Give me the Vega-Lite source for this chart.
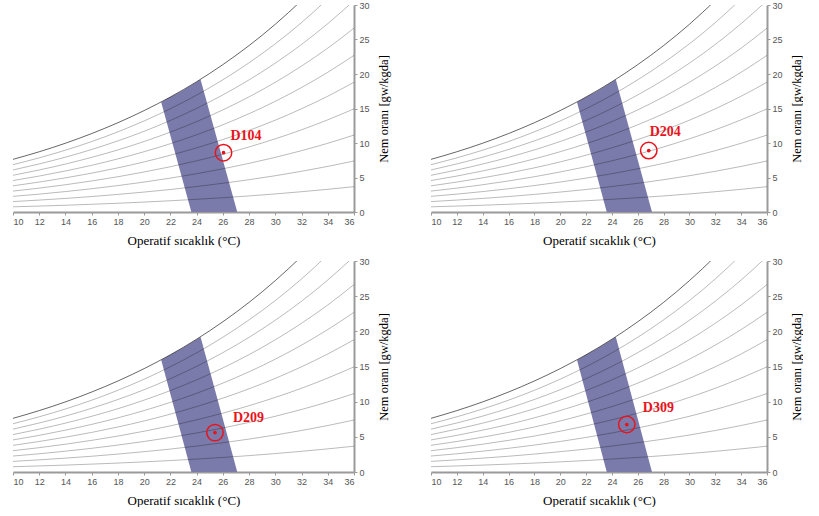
{
  "$schema": "https://vega.github.io/schema/vega-lite/v6.json",
  "background": "white",
  "padding": {"left": 12, "top": 1, "right": 0, "bottom": 0},
  "datasets": {
    "rh": [
      {"rh": 10, "t": 10, "w": 0.75}, {"rh": 10, "t": 12, "w": 0.86}, {"rh": 10, "t": 14, "w": 0.98}, {"rh": 10, "t": 16, "w": 1.12}, {"rh": 10, "t": 18, "w": 1.27}, {"rh": 10, "t": 20, "w": 1.44}, {"rh": 10, "t": 22, "w": 1.63}, {"rh": 10, "t": 24, "w": 1.84}, {"rh": 10, "t": 26, "w": 2.07}, {"rh": 10, "t": 28, "w": 2.33}, {"rh": 10, "t": 30, "w": 2.62}, {"rh": 10, "t": 32, "w": 2.94}, {"rh": 10, "t": 34, "w": 3.29}, {"rh": 10, "t": 36, "w": 3.67},
      {"rh": 20, "t": 10, "w": 1.51}, {"rh": 20, "t": 12, "w": 1.73}, {"rh": 20, "t": 14, "w": 1.97}, {"rh": 20, "t": 16, "w": 2.24}, {"rh": 20, "t": 18, "w": 2.55}, {"rh": 20, "t": 20, "w": 2.89}, {"rh": 20, "t": 22, "w": 3.26}, {"rh": 20, "t": 24, "w": 3.69}, {"rh": 20, "t": 26, "w": 4.16}, {"rh": 20, "t": 28, "w": 4.68}, {"rh": 20, "t": 30, "w": 5.26}, {"rh": 20, "t": 32, "w": 5.90}, {"rh": 20, "t": 34, "w": 6.61}, {"rh": 20, "t": 36, "w": 7.39},
      {"rh": 30, "t": 10, "w": 2.27}, {"rh": 30, "t": 12, "w": 2.59}, {"rh": 30, "t": 14, "w": 2.96}, {"rh": 30, "t": 16, "w": 3.37}, {"rh": 30, "t": 18, "w": 3.83}, {"rh": 30, "t": 20, "w": 4.34}, {"rh": 30, "t": 22, "w": 4.91}, {"rh": 30, "t": 24, "w": 5.55}, {"rh": 30, "t": 26, "w": 6.26}, {"rh": 30, "t": 28, "w": 7.05}, {"rh": 30, "t": 30, "w": 7.92}, {"rh": 30, "t": 32, "w": 8.89}, {"rh": 30, "t": 34, "w": 9.96}, {"rh": 30, "t": 36, "w": 11.15},
      {"rh": 40, "t": 10, "w": 3.03}, {"rh": 40, "t": 12, "w": 3.46}, {"rh": 40, "t": 14, "w": 3.95}, {"rh": 40, "t": 16, "w": 4.50}, {"rh": 40, "t": 18, "w": 5.11}, {"rh": 40, "t": 20, "w": 5.80}, {"rh": 40, "t": 22, "w": 6.56}, {"rh": 40, "t": 24, "w": 7.42}, {"rh": 40, "t": 26, "w": 8.37}, {"rh": 40, "t": 28, "w": 9.43}, {"rh": 40, "t": 30, "w": 10.61}, {"rh": 40, "t": 32, "w": 11.91}, {"rh": 40, "t": 34, "w": 13.36}, {"rh": 40, "t": 36, "w": 14.95},
      {"rh": 50, "t": 10, "w": 3.79}, {"rh": 50, "t": 12, "w": 4.34}, {"rh": 50, "t": 14, "w": 4.95}, {"rh": 50, "t": 16, "w": 5.63}, {"rh": 50, "t": 18, "w": 6.40}, {"rh": 50, "t": 20, "w": 7.26}, {"rh": 50, "t": 22, "w": 8.23}, {"rh": 50, "t": 24, "w": 9.30}, {"rh": 50, "t": 26, "w": 10.50}, {"rh": 50, "t": 28, "w": 11.83}, {"rh": 50, "t": 30, "w": 13.31}, {"rh": 50, "t": 32, "w": 14.96}, {"rh": 50, "t": 34, "w": 16.78}, {"rh": 50, "t": 36, "w": 18.81},
      {"rh": 60, "t": 10, "w": 4.56}, {"rh": 60, "t": 12, "w": 5.21}, {"rh": 60, "t": 14, "w": 5.95}, {"rh": 60, "t": 16, "w": 6.77}, {"rh": 60, "t": 18, "w": 7.70}, {"rh": 60, "t": 20, "w": 8.74}, {"rh": 60, "t": 22, "w": 9.90}, {"rh": 60, "t": 24, "w": 11.19}, {"rh": 60, "t": 26, "w": 12.64}, {"rh": 60, "t": 28, "w": 14.25}, {"rh": 60, "t": 30, "w": 16.04}, {"rh": 60, "t": 32, "w": 18.04}, {"rh": 60, "t": 34, "w": 20.25}, {"rh": 60, "t": 36, "w": 22.70},
      {"rh": 70, "t": 10, "w": 5.32}, {"rh": 70, "t": 12, "w": 6.09}, {"rh": 70, "t": 14, "w": 6.95}, {"rh": 70, "t": 16, "w": 7.92}, {"rh": 70, "t": 18, "w": 9.00}, {"rh": 70, "t": 20, "w": 10.22}, {"rh": 70, "t": 22, "w": 11.58}, {"rh": 70, "t": 24, "w": 13.10}, {"rh": 70, "t": 26, "w": 14.80}, {"rh": 70, "t": 28, "w": 16.69}, {"rh": 70, "t": 30, "w": 18.80}, {"rh": 70, "t": 32, "w": 21.15}, {"rh": 70, "t": 34, "w": 23.75}, {"rh": 70, "t": 36, "w": 26.65},
      {"rh": 80, "t": 10, "w": 6.09}, {"rh": 80, "t": 12, "w": 6.97}, {"rh": 80, "t": 14, "w": 7.95}, {"rh": 80, "t": 16, "w": 9.06}, {"rh": 80, "t": 18, "w": 10.31}, {"rh": 80, "t": 20, "w": 11.70}, {"rh": 80, "t": 22, "w": 13.27}, {"rh": 80, "t": 24, "w": 15.02}, {"rh": 80, "t": 26, "w": 16.97}, {"rh": 80, "t": 28, "w": 19.15}, {"rh": 80, "t": 30, "w": 21.58}, {"rh": 80, "t": 32, "w": 24.28}, {"rh": 80, "t": 34, "w": 27.30}, {"rh": 80, "t": 36, "w": 30.64},
      {"rh": 90, "t": 10, "w": 6.86}, {"rh": 90, "t": 12, "w": 7.85}, {"rh": 90, "t": 14, "w": 8.96}, {"rh": 90, "t": 16, "w": 10.21}, {"rh": 90, "t": 18, "w": 11.62}, {"rh": 90, "t": 20, "w": 13.20}, {"rh": 90, "t": 22, "w": 14.97}, {"rh": 90, "t": 24, "w": 16.94}, {"rh": 90, "t": 26, "w": 19.16}, {"rh": 90, "t": 28, "w": 21.63}, {"rh": 90, "t": 30, "w": 24.38}, {"rh": 90, "t": 32, "w": 27.45}, {"rh": 90, "t": 34, "w": 30.88},
      {"rh": 100, "t": 10, "w": 7.63}, {"rh": 100, "t": 12, "w": 8.73}, {"rh": 100, "t": 14, "w": 9.97}, {"rh": 100, "t": 16, "w": 11.37}, {"rh": 100, "t": 18, "w": 12.94}, {"rh": 100, "t": 20, "w": 14.70}, {"rh": 100, "t": 22, "w": 16.67}, {"rh": 100, "t": 24, "w": 18.88}, {"rh": 100, "t": 26, "w": 21.36}, {"rh": 100, "t": 28, "w": 24.12}, {"rh": 100, "t": 30, "w": 27.21}, {"rh": 100, "t": 32, "w": 30.65}
    ],
    "zone": [
      {"w": 0, "t": 23.6, "t2": 27.1},
      {"w": 15.92, "t": 21.3, "t2": 24.78},
      {"w": 16.67, "t": 22.0, "t2": 24.67},
      {"w": 17.48, "t": 22.8, "t2": 24.55},
      {"w": 18.26, "t": 23.5, "t2": 24.44},
      {"w": 19.19, "t": 24.3, "t2": 24.3}
    ]
  },
  "config": {
    "view": {"stroke": null},
    "axis": {
      "grid": false,
      "domainColor": "#9a9a9a",
      "domainWidth": 2,
      "tickColor": "#9a9a9a",
      "tickSize": 3,
      "labelColor": "#555555",
      "labelFont": "Liberation Sans",
      "labelFontSize": 9,
      "labelPadding": 2,
      "titleFont": "Liberation Serif",
      "titleFontWeight": "normal",
      "titleColor": "#000000",
      "titleFontSize": 13
    }
  },
  "bounds": "flush",
  "columns": 2,
  "spacing": {"row": 49, "column": 77},
  "concat": [
    {
      "width": 341, "height": 207,
      "encoding": {
        "x": {"field": "t", "type": "quantitative", "scale": {"domain": [10, 36], "nice": false, "zero": false}, "axis": {"values": [10,12,14,16,18,20,22,24,26,28,30,32,34,36], "title": "Operatif sıcaklık (°C)", "titlePadding": 8}},
        "y": {"field": "w", "type": "quantitative", "scale": {"domain": [0, 30], "nice": false}, "axis": {"orient": "right", "values": [0,5,10,15,20,25,30], "title": "Nem oranı [gw/kgda]", "titleAngle": 270, "titlePadding": 21, "titleFontSize": 12.5}}
      },
      "layer": [
        {"data": {"name": "zone"}, "mark": {"type": "area", "orient": "horizontal", "color": "#7b7bab", "opacity": 1}, "encoding": {"x2": {"field": "t2"}}},
        {"data": {"name": "rh"}, "transform": [{"filter": "datum.rh < 100"}], "mark": {"type": "line", "interpolate": "monotone", "clip": true, "color": "#000000", "opacity": 0.27, "strokeWidth": 1}, "encoding": {"detail": {"field": "rh"}}},
        {"data": {"name": "rh"}, "transform": [{"filter": "datum.rh == 100"}], "mark": {"type": "line", "interpolate": "monotone", "clip": true, "color": "#000000", "opacity": 0.6, "strokeWidth": 1}, "encoding": {}},
        {"data": {"values": [{"t": 26.05, "w": 8.6, "label": "D104"}]}, "mark": {"type": "point", "shape": "circle", "filled": false, "stroke": "#e8141c", "strokeWidth": 1.5, "size": 270, "opacity": 1}, "encoding": {}},
        {"data": {"values": [{"t": 26.05, "w": 8.6, "label": "D104"}]}, "mark": {"type": "point", "shape": "circle", "filled": true, "color": "#e8141c", "size": 14, "opacity": 1}, "encoding": {}},
        {"data": {"values": [{"t": 26.05, "w": 8.6, "label": "D104"}]}, "mark": {"type": "text", "align": "left", "baseline": "alphabetic", "dx": 7, "dy": -13, "font": "Liberation Serif", "fontWeight": "bold", "fontSize": 14, "color": "#e8141c"}, "encoding": {"text": {"field": "label"}}}
      ]
    },
    {
      "width": 336, "height": 207,
      "encoding": {
        "x": {"field": "t", "type": "quantitative", "scale": {"domain": [10, 36], "nice": false, "zero": false}, "axis": {"values": [10,12,14,16,18,20,22,24,26,28,30,32,34,36], "title": "Operatif sıcaklık (°C)", "titlePadding": 8}},
        "y": {"field": "w", "type": "quantitative", "scale": {"domain": [0, 30], "nice": false}, "axis": {"orient": "right", "values": [0,5,10,15,20,25,30], "title": "Nem oranı [gw/kgda]", "titleAngle": 270, "titlePadding": 21, "titleFontSize": 12.5}}
      },
      "layer": [
        {"data": {"name": "zone"}, "mark": {"type": "area", "orient": "horizontal", "color": "#7b7bab", "opacity": 1}, "encoding": {"x2": {"field": "t2"}}},
        {"data": {"name": "rh"}, "transform": [{"filter": "datum.rh < 100"}], "mark": {"type": "line", "interpolate": "monotone", "clip": true, "color": "#000000", "opacity": 0.27, "strokeWidth": 1}, "encoding": {"detail": {"field": "rh"}}},
        {"data": {"name": "rh"}, "transform": [{"filter": "datum.rh == 100"}], "mark": {"type": "line", "interpolate": "monotone", "clip": true, "color": "#000000", "opacity": 0.6, "strokeWidth": 1}, "encoding": {}},
        {"data": {"values": [{"t": 26.85, "w": 8.9, "label": "D204"}]}, "mark": {"type": "point", "shape": "circle", "filled": false, "stroke": "#e8141c", "strokeWidth": 1.5, "size": 270, "opacity": 1}, "encoding": {}},
        {"data": {"values": [{"t": 26.85, "w": 8.9, "label": "D204"}]}, "mark": {"type": "point", "shape": "circle", "filled": true, "color": "#e8141c", "size": 14, "opacity": 1}, "encoding": {}},
        {"data": {"values": [{"t": 26.85, "w": 8.9, "label": "D204"}]}, "mark": {"type": "text", "align": "left", "baseline": "alphabetic", "dx": 1, "dy": -15, "font": "Liberation Serif", "fontWeight": "bold", "fontSize": 14, "color": "#e8141c"}, "encoding": {"text": {"field": "label"}}}
      ]
    },
    {
      "width": 341, "height": 211,
      "encoding": {
        "x": {"field": "t", "type": "quantitative", "scale": {"domain": [10, 36], "nice": false, "zero": false}, "axis": {"values": [10,12,14,16,18,20,22,24,26,28,30,32,34,36], "title": "Operatif sıcaklık (°C)", "titlePadding": 8}},
        "y": {"field": "w", "type": "quantitative", "scale": {"domain": [0, 30], "nice": false}, "axis": {"orient": "right", "values": [0,5,10,15,20,25,30], "title": "Nem oranı [gw/kgda]", "titleAngle": 270, "titlePadding": 21, "titleFontSize": 12.5}}
      },
      "layer": [
        {"data": {"name": "zone"}, "mark": {"type": "area", "orient": "horizontal", "color": "#7b7bab", "opacity": 1}, "encoding": {"x2": {"field": "t2"}}},
        {"data": {"name": "rh"}, "transform": [{"filter": "datum.rh < 100"}], "mark": {"type": "line", "interpolate": "monotone", "clip": true, "color": "#000000", "opacity": 0.27, "strokeWidth": 1}, "encoding": {"detail": {"field": "rh"}}},
        {"data": {"name": "rh"}, "transform": [{"filter": "datum.rh == 100"}], "mark": {"type": "line", "interpolate": "monotone", "clip": true, "color": "#000000", "opacity": 0.6, "strokeWidth": 1}, "encoding": {}},
        {"data": {"values": [{"t": 25.4, "w": 5.6, "label": "D209"}]}, "mark": {"type": "point", "shape": "circle", "filled": false, "stroke": "#e8141c", "strokeWidth": 1.5, "size": 270, "opacity": 1}, "encoding": {}},
        {"data": {"values": [{"t": 25.4, "w": 5.6, "label": "D209"}]}, "mark": {"type": "point", "shape": "circle", "filled": true, "color": "#e8141c", "size": 14, "opacity": 1}, "encoding": {}},
        {"data": {"values": [{"t": 25.4, "w": 5.6, "label": "D209"}]}, "mark": {"type": "text", "align": "left", "baseline": "alphabetic", "dx": 18, "dy": -11, "font": "Liberation Serif", "fontWeight": "bold", "fontSize": 14, "color": "#e8141c"}, "encoding": {"text": {"field": "label"}}}
      ]
    },
    {
      "width": 336, "height": 211,
      "encoding": {
        "x": {"field": "t", "type": "quantitative", "scale": {"domain": [10, 36], "nice": false, "zero": false}, "axis": {"values": [10,12,14,16,18,20,22,24,26,28,30,32,34,36], "title": "Operatif sıcaklık (°C)", "titlePadding": 8}},
        "y": {"field": "w", "type": "quantitative", "scale": {"domain": [0, 30], "nice": false}, "axis": {"orient": "right", "values": [0,5,10,15,20,25,30], "title": "Nem oranı [gw/kgda]", "titleAngle": 270, "titlePadding": 21, "titleFontSize": 12.5}}
      },
      "layer": [
        {"data": {"name": "zone"}, "mark": {"type": "area", "orient": "horizontal", "color": "#7b7bab", "opacity": 1}, "encoding": {"x2": {"field": "t2"}}},
        {"data": {"name": "rh"}, "transform": [{"filter": "datum.rh < 100"}], "mark": {"type": "line", "interpolate": "monotone", "clip": true, "color": "#000000", "opacity": 0.27, "strokeWidth": 1}, "encoding": {"detail": {"field": "rh"}}},
        {"data": {"name": "rh"}, "transform": [{"filter": "datum.rh == 100"}], "mark": {"type": "line", "interpolate": "monotone", "clip": true, "color": "#000000", "opacity": 0.6, "strokeWidth": 1}, "encoding": {}},
        {"data": {"values": [{"t": 25.15, "w": 6.75, "label": "D309"}]}, "mark": {"type": "point", "shape": "circle", "filled": false, "stroke": "#e8141c", "strokeWidth": 1.5, "size": 270, "opacity": 1}, "encoding": {}},
        {"data": {"values": [{"t": 25.15, "w": 6.75, "label": "D309"}]}, "mark": {"type": "point", "shape": "circle", "filled": true, "color": "#e8141c", "size": 14, "opacity": 1}, "encoding": {}},
        {"data": {"values": [{"t": 25.15, "w": 6.75, "label": "D309"}]}, "mark": {"type": "text", "align": "left", "baseline": "alphabetic", "dx": 16, "dy": -13, "font": "Liberation Serif", "fontWeight": "bold", "fontSize": 14, "color": "#e8141c"}, "encoding": {"text": {"field": "label"}}}
      ]
    }
  ]
}
